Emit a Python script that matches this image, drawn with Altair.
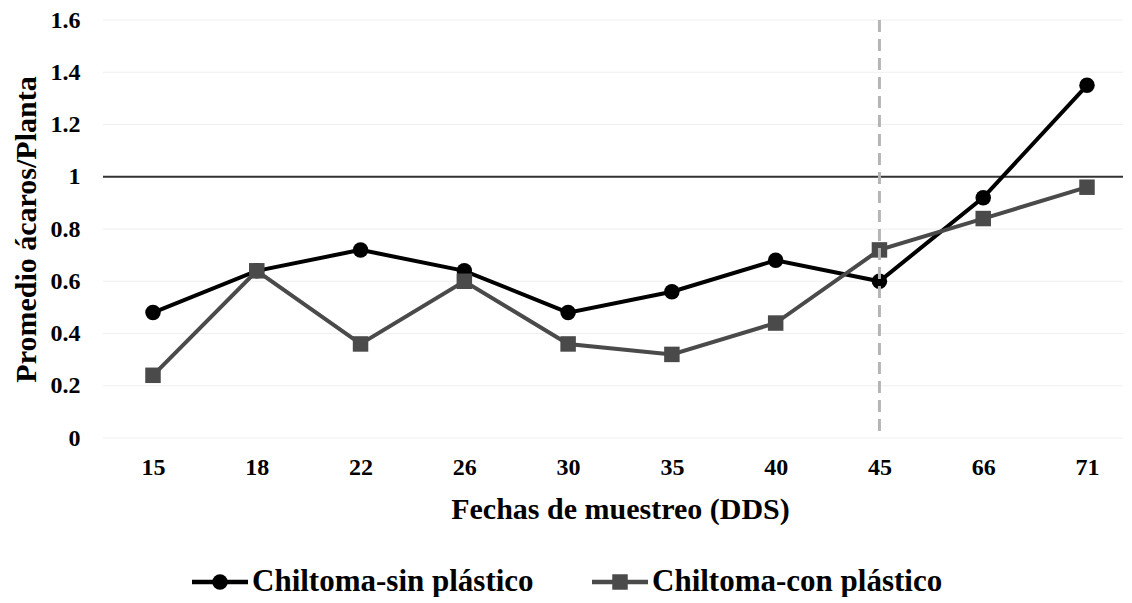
import altair as alt
import pandas as pd

# ---- data ----
fechas = ["15", "18", "22", "26", "30", "35", "40", "45", "66", "71"]
sin_plastico = [0.48, 0.64, 0.72, 0.64, 0.48, 0.56, 0.68, 0.60, 0.92, 1.35]
con_plastico = [0.24, 0.64, 0.36, 0.60, 0.36, 0.32, 0.44, 0.72, 0.84, 0.96]
series = ["Chiltoma-sin plástico", "Chiltoma-con plástico"]
colores = ["#000000", "#4a4a4a"]
umbral = [1.0]
fecha_corte = ["45"]
y_ticks = [0, 0.2, 0.4, 0.6, 0.8, 1.0, 1.2, 1.4, 1.6]

rows = []
for f, a, b in zip(fechas, sin_plastico, con_plastico):
    rows.append({"fecha": f, "serie": series[0], "valor": a})
    rows.append({"fecha": f, "serie": series[1], "valor": b})
df = pd.DataFrame(rows)
df_leg = pd.DataFrame({"serie": series})

FONT = "Liberation Serif"

color_scale = alt.Scale(domain=series, range=colores)

x_enc = alt.X(
    "fecha:N",
    sort=fechas,
    scale=alt.Scale(type="point", domain=fechas, range=[50, 984], padding=0),
    axis=alt.Axis(
        title="Fechas de muestreo (DDS)",
        labelAngle=0,
        labelPadding=17,
        titlePadding=15,
        domain=False,
        ticks=False,
        grid=False,
    ),
)
y_enc = alt.Y(
    "valor:Q",
    scale=alt.Scale(domain=[0, 1.6], nice=False, zero=True),
    axis=alt.Axis(
        title="Promedio ácaros/Planta",
        values=y_ticks,
        format="~g",
        labelPadding=23,
        titlePadding=9,
        domain=False,
        ticks=False,
        grid=False,
    ),
)

base = alt.Chart(df)

grid = (
    alt.Chart(pd.DataFrame({"valor": y_ticks}))
    .mark_rule(color="#efefef", strokeWidth=1)
    .encode(y=alt.Y("valor:Q"))
)

h_rule = (
    alt.Chart(pd.DataFrame({"valor": umbral}))
    .mark_rule(color="#333333", strokeWidth=2)
    .encode(y=alt.Y("valor:Q"))
)

v_rule = (
    alt.Chart(pd.DataFrame({"fecha": fecha_corte}))
    .mark_rule(color="#b5b5b5", strokeWidth=3, strokeDash=[12, 7])
    .encode(x=alt.X("fecha:N", sort=fechas))
)

lines = base.mark_line(strokeWidth=4).encode(
    x=x_enc,
    y=y_enc,
    color=alt.Color("serie:N", scale=color_scale, legend=None),
)

pts_sin = (
    base.transform_filter(alt.datum.serie == series[0])
    .mark_point(filled=True, size=240, opacity=1, shape="circle")
    .encode(
        x=alt.X("fecha:N", sort=fechas),
        y=alt.Y("valor:Q"),
        color=alt.Color("serie:N", scale=color_scale, legend=None),
    )
)
pts_con = (
    base.transform_filter(alt.datum.serie == series[1])
    .mark_point(filled=True, size=240, opacity=1, shape="square")
    .encode(
        x=alt.X("fecha:N", sort=fechas),
        y=alt.Y("valor:Q"),
        color=alt.Color("serie:N", scale=color_scale, legend=None),
    )
)

main = alt.layer(grid, h_rule, lines, pts_sin, pts_con, v_rule).properties(width=1020, height=418)

# ---- legend strip (line + marker + label), positioned by a point scale ----
leg_x = alt.X(
    "serie:N", sort=series, scale=alt.Scale(type="point", domain=series, range=[117, 517], padding=0), axis=None
)
leg_base = alt.Chart(df_leg)

leg_line = leg_base.mark_point(shape="stroke", size=3136, strokeWidth=4.5, filled=False, opacity=1).encode(
    x=leg_x, color=alt.Color("serie:N", scale=color_scale, legend=None)
)
leg_circ = (
    leg_base.transform_filter(alt.datum.serie == series[0])
    .mark_point(shape="circle", size=240, filled=True, opacity=1)
    .encode(x=leg_x, color=alt.Color("serie:N", scale=color_scale, legend=None))
)
leg_sq = (
    leg_base.transform_filter(alt.datum.serie == series[1])
    .mark_point(shape="square", size=240, filled=True, opacity=1)
    .encode(x=leg_x, color=alt.Color("serie:N", scale=color_scale, legend=None))
)
leg_text = leg_base.mark_text(
    align="left", baseline="middle", dx=32, font=FONT, fontSize=31, fontWeight="bold", color="#000000"
).encode(x=leg_x, text="serie:N")

legend_strip = alt.layer(leg_line, leg_circ, leg_sq, leg_text).properties(width=1020, height=30)

chart = (
    alt.vconcat(main, legend_strip, spacing=42)
    .properties(padding={"left": 3, "top": 0, "right": 0, "bottom": 0})
    .configure_view(stroke=None)
    .configure_axis(
        labelFont=FONT,
        labelFontSize=24,
        labelFontWeight="bold",
        labelColor="#000000",
        titleFont=FONT,
        titleFontSize=30,
        titleFontWeight="bold",
        titleColor="#000000",
    )
)

chart.save("out.html", embed_options={"renderer": "svg", "actions": False})
